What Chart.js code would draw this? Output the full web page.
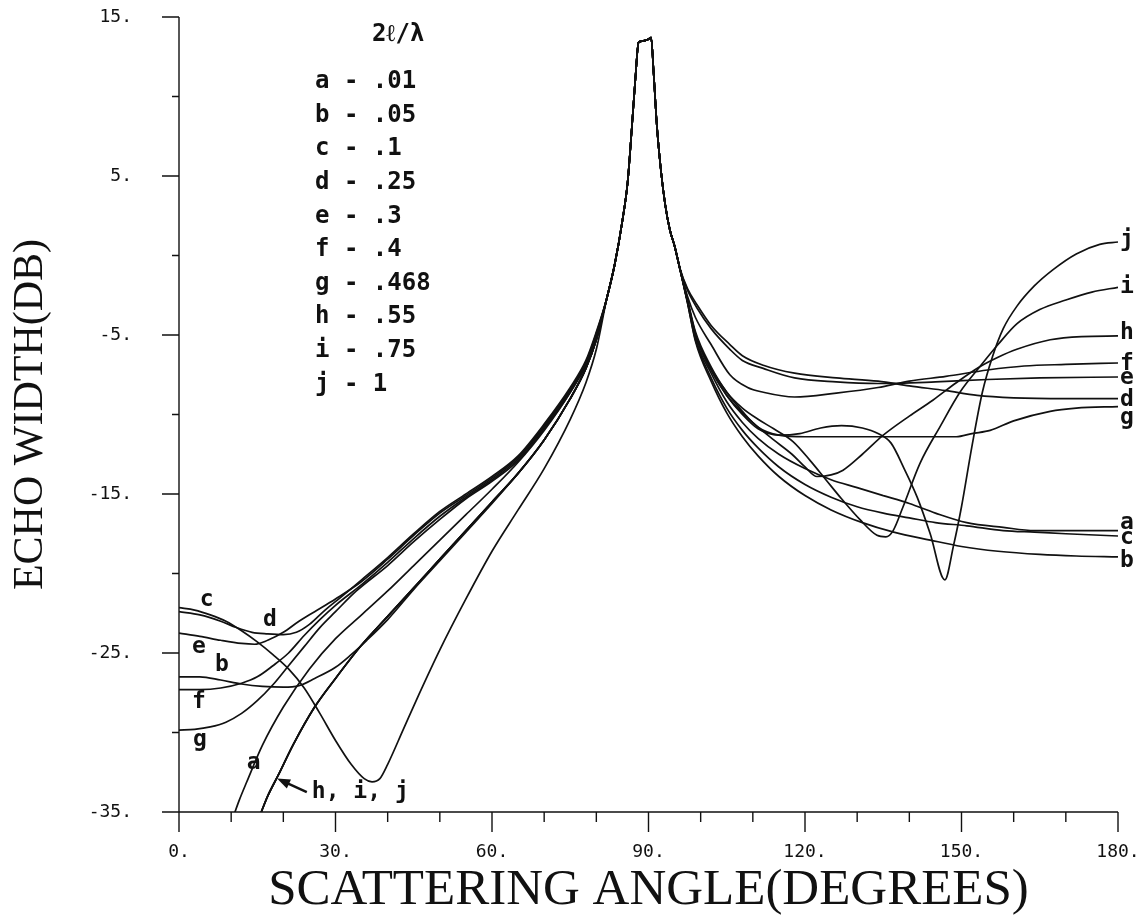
<!DOCTYPE html>
<html lang="en">
<head>
    <meta charset="UTF-8">
    <title>Echo width vs scattering angle</title>
    <script src="https://cdn.jsdelivr.net/npm/chart.js@4.4.1/dist/chart.umd.min.js"></script>
    <style>
        body {
            margin: 0;
            background: #fff;
        }
        #wrap {
            width: 1145px;
            height: 921px;
        }
    </style>
</head>
<body>
    <div id="wrap"><canvas id="echoChart"></canvas></div>

    <script>
        // common specular peak shared by every curve (deg, dB)
        const peakTop = [[82,-2.7],[83.5,-0.6],[85,2.2],[86,4.6],[86.8,8.0],[87.5,11.2],[88.1,13.4],[89,13.5],[90,13.6],[90.5,13.7],[91,11.4],[91.6,8.2],[92.4,5.3],[93.2,3.2],[94.1,1.6],[95,0.6],[96,-0.8]];

        // left branch shared by h, i and j
        const hijLeft = [[15.3,-35.4],[17,-34.0],[19,-32.7],[22,-30.7],[26,-28.4],[30,-26.6],[35,-24.5],[40,-22.7],[45,-20.9],[50,-19.1],[55,-17.3],[60,-15.5],[65,-13.7],[70,-11.6],[75,-9.0],[78,-7.1],[80,-5.3]];

        const curveA = [[10.3,-35.4],[11.5,-34.3],[13,-33.1],[16,-30.8],[20,-28.4],[25,-26.0],[30,-24.1],[35,-22.6],[40,-21.1],[45,-19.5],[50,-17.9],[55,-16.3],[60,-14.7],[65,-13.0],[70,-11.0],[75,-8.6],[78,-6.8],[80,-5.0],
            ...peakTop,
            [97.5,-2.9],[99,-5.2],[102,-7.4],[105,-9.2],[108,-10.5],[111,-11.5],[115,-12.5],[120,-13.4],[125,-14.1],[130,-14.6],[135,-15.1],[140,-15.6],[145,-16.2],[151,-16.8],[158,-17.1],[164,-17.3],[170,-17.3],[180,-17.3]];

        const curveB = [[0,-26.5],[4,-26.5],[8,-26.7],[12,-26.95],[16,-27.1],[20,-27.15],[23,-27.05],[26,-26.6],[30,-25.9],[33,-25.1],[36,-24.2],[40,-22.9],[45,-21.0],[50,-19.2],[55,-17.4],[60,-15.6],[65,-13.7],[70,-11.6],[75,-9.0],[78,-7.1],[80,-5.3],
            ...peakTop,
            [97.5,-3.0],[99,-5.4],[102,-7.9],[105,-9.9],[108,-11.4],[111,-12.6],[115,-13.9],[120,-15.1],[125,-16.0],[131,-16.8],[137,-17.4],[144,-17.9],[150,-18.3],[157,-18.6],[165,-18.8],[172,-18.9],[180,-18.96]];

        const curveC = [[0,-22.15],[3,-22.3],[6,-22.6],[9,-23.0],[12,-23.6],[15,-24.3],[18,-25.1],[21,-26.0],[24,-27.2],[27,-28.8],[30,-30.5],[33,-32.0],[35.5,-32.9],[37,-33.1],[38.5,-32.9],[40,-32.0],[43,-29.8],[46,-27.6],[50,-24.8],[55,-21.6],[60,-18.6],[65,-16.0],[70,-13.4],[75,-10.3],[78,-8.0],[80,-5.9],
            ...peakTop,
            [97.5,-3.0],[99,-5.3],[102,-7.7],[105,-9.6],[108,-11.0],[111,-12.1],[115,-13.3],[120,-14.4],[125,-15.2],[130,-15.8],[135,-16.2],[140,-16.5],[145,-16.8],[151,-17.0],[158,-17.3],[164,-17.4],[170,-17.5],[180,-17.64]];

        const curveD = [[0,-22.4],[4,-22.6],[8,-23.0],[11,-23.4],[14,-23.7],[17,-23.8],[20,-23.85],[22.5,-23.7],[25,-23.2],[28,-22.3],[31,-21.5],[35,-20.4],[40,-19.0],[45,-17.5],[50,-16.1],[55,-15.0],[60,-13.9],[65,-12.6],[70,-10.6],[75,-8.3],[78,-6.6],[80,-4.8],
            ...peakTop,
            [97.5,-2.1],[99.3,-3.1],[102,-4.4],[105.6,-5.6],[108,-6.3],[112,-6.9],[118,-7.4],[126,-7.7],[134,-7.9],[140,-8.2],[147,-8.5],[153,-8.8],[160,-8.95],[170,-9.0],[180,-9.0]];

        const curveE = [[0,-23.75],[4,-23.95],[8,-24.2],[12,-24.4],[14.5,-24.45],[17,-24.2],[20,-23.7],[23,-23.0],[26,-22.4],[30,-21.6],[35,-20.5],[40,-19.1],[45,-17.6],[50,-16.2],[55,-15.1],[60,-14.0],[65,-12.7],[70,-10.7],[75,-8.4],[78,-6.7],[80,-4.9],
            ...peakTop,
            [97.5,-2.2],[99.3,-3.3],[102,-4.6],[105.6,-5.9],[108,-6.6],[112,-7.1],[118,-7.7],[126,-7.95],[134,-8.05],[145,-7.95],[155,-7.8],[165,-7.7],[180,-7.64]];

        const curveF = [[0,-27.3],[4,-27.3],[8,-27.2],[12,-26.9],[15,-26.5],[18,-25.8],[21,-25.0],[24,-23.9],[27,-22.9],[30,-22.0],[35,-20.7],[40,-19.3],[45,-17.8],[50,-16.4],[55,-15.2],[60,-14.1],[65,-12.8],[70,-10.8],[75,-8.5],[78,-6.8],[80,-5.0],
            ...peakTop,
            [97.5,-2.6],[99,-3.9],[102,-5.6],[105.6,-7.5],[109,-8.3],[112,-8.6],[118,-8.9],[126,-8.65],[134,-8.3],[140,-7.9],[147,-7.6],[155,-7.2],[162,-6.95],[170,-6.85],[180,-6.76]];

        const curveG = [[0,-29.85],[3,-29.8],[6,-29.65],[9,-29.35],[12,-28.8],[15,-28.0],[18,-27.0],[21,-25.8],[24,-24.6],[27,-23.4],[30,-22.4],[34,-21.1],[40,-19.5],[45,-18.0],[50,-16.6],[55,-15.3],[60,-14.2],[65,-12.9],[70,-10.9],[75,-8.6],[78,-6.9],[80,-5.1],
            ...peakTop,
            [97.5,-2.8],[99,-4.8],[102,-7.0],[105,-8.6],[108,-9.8],[111,-10.8],[115,-11.3],[120,-11.4],[130,-11.4],[140,-11.4],[149,-11.4],[152,-11.2],[155.5,-11.0],[160,-10.4],[167,-9.8],[172,-9.6],[180,-9.5]];

        const curveH = [...hijLeft, ...peakTop,
            [97.5,-2.9],[99,-5.0],[102,-7.2],[105,-8.8],[108,-9.9],[111,-10.8],[114,-11.6],[117.5,-12.5],[120,-13.3],[122.3,-13.9],[125,-13.8],[127.3,-13.5],[131,-12.5],[135,-11.3],[140,-10.1],[144.5,-9.1],[149,-8.0],[153.5,-7.0],[157,-6.4],[160.6,-5.9],[167,-5.3],[173,-5.1],[180,-5.06]];

        const curveI = [...hijLeft, ...peakTop,
            [97.5,-2.9],[99,-5.0],[102,-7.1],[105,-8.6],[108,-9.6],[111,-10.3],[114,-10.9],[117.7,-11.7],[121,-12.9],[124,-14.1],[127,-15.3],[130.5,-16.6],[133.8,-17.6],[135.5,-17.7],[136.9,-17.3],[138.8,-15.8],[142,-13.1],[146,-10.7],[149.7,-8.6],[153.5,-7.0],[157,-5.6],[160.6,-4.3],[165,-3.4],[170,-2.8],[175,-2.3],[180,-2.0]];

        const curveJ = [...hijLeft, ...peakTop,
            [97.5,-2.9],[99,-4.9],[102,-7.2],[105,-8.8],[108,-10.0],[111,-10.9],[115,-11.3],[119,-11.2],[123,-10.85],[127,-10.7],[131,-10.85],[134,-11.2],[136.5,-11.8],[139,-13.4],[141.5,-15.2],[144,-17.5],[146.8,-20.4],[148.5,-18.2],[150,-15.8],[152,-12.0],[154,-8.6],[156,-6.3],[158,-4.6],[160.6,-3.2],[164,-1.9],[167.5,-0.9],[172,0.1],[176.5,0.7],[180,0.85]];

        const curveNames = ['a', 'b', 'c', 'd', 'e', 'f', 'g', 'h', 'i', 'j'];
        const curves = [curveA, curveB, curveC, curveD, curveE, curveF, curveG, curveH, curveI, curveJ];

        const legendTitle = '2\u2113/\u03bb';
        const legendRows = ['a - .01', 'b - .05', 'c - .1', 'd - .25', 'e - .3', 'f - .4', 'g - .468', 'h - .55', 'i - .75', 'j - 1'];

        // curve tags, anchored in data units (deg, dB)
        const tagsRight = [['j', 0.95], ['i', -2.0], ['h', -4.9], ['f', -6.8], ['e', -7.7], ['d', -9.1], ['g', -10.2], ['a', -16.8], ['c', -17.8], ['b', -19.2]];
        const tagsLeft = [['c', 4.0, -21.7], ['d', 16.1, -22.9], ['e', 2.5, -24.6], ['b', 6.9, -25.75], ['f', 2.5, -28.1], ['g', 2.7, -30.5], ['a', 13.0, -31.9]];

        const INK = '#111';
        const TAG_FONT = 'bold 23px "DejaVu Sans Mono"';
        // invisible tick marks: they only push the labels away from the axis
        const hiddenGrid = len => ({ display: true, drawOnChartArea: false, drawTicks: true, tickLength: len, color: 'rgba(0,0,0,0)', tickColor: 'rgba(0,0,0,0)' });

        // axis lines, tick marks, legend block and curve tags
        const plotDecor = {
            id: 'plotDecor',
            afterDraw(chart) {
                const { ctx, scales: { x, y } } = chart;
                const px = v => x.getPixelForValue(v);
                const py = v => y.getPixelForValue(v);
                ctx.save();
                ctx.strokeStyle = INK;
                ctx.lineWidth = 1.4;
                ctx.beginPath();
                ctx.moveTo(x.left, y.top);
                ctx.lineTo(x.left, y.bottom);
                ctx.lineTo(x.right, y.bottom);
                for (let v = 0; v <= 180; v += 10) {
                    const len = v % 30 === 0 ? 20 : 10;
                    ctx.moveTo(px(v), y.bottom);
                    ctx.lineTo(px(v), y.bottom + len);
                }
                for (let v = -35; v <= 15; v += 5) {
                    const len = (v + 35) % 10 === 0 ? 17 : 7;
                    ctx.moveTo(x.left - len, py(v));
                    ctx.lineTo(x.left, py(v));
                }
                ctx.stroke();

                ctx.fillStyle = INK;
                ctx.textBaseline = 'middle';

                // legend block
                ctx.font = 'bold 24px "DejaVu Sans Mono"';
                ctx.textAlign = 'left';
                ctx.fillText(legendTitle, x.left + 193, y.top + 18);
                legendRows.forEach((row, i) => {
                    ctx.fillText(row, x.left + 136, y.top + 65 + i * 33.6);
                });

                // tags at the right ends
                ctx.font = TAG_FONT;
                tagsRight.forEach(([t, v]) => ctx.fillText(t, x.right + 2, py(v)));
                // tags near the left ends
                tagsLeft.forEach(([t, a, v]) => ctx.fillText(t, px(a), py(v)));

                // h, i, j pointer
                const tipX = px(18.8), tipY = py(-32.9);
                const tailX = px(24.5), tailY = py(-33.75);
                const ang = Math.atan2(tipY - tailY, tipX - tailX);
                ctx.lineWidth = 2.5;
                ctx.beginPath();
                ctx.moveTo(tailX, tailY);
                ctx.lineTo(tipX - 8 * Math.cos(ang), tipY - 8 * Math.sin(ang));
                ctx.stroke();
                ctx.beginPath();
                ctx.moveTo(tipX, tipY);
                ctx.lineTo(tipX - 13 * Math.cos(ang) + 5 * Math.sin(ang), tipY - 13 * Math.sin(ang) - 5 * Math.cos(ang));
                ctx.lineTo(tipX - 13 * Math.cos(ang) - 5 * Math.sin(ang), tipY - 13 * Math.sin(ang) + 5 * Math.cos(ang));
                ctx.closePath();
                ctx.fill();
                ctx.fillText('h, i, j', tailX + 5, tailY);
                ctx.restore();
            }
        };

        const datasets = curves.map((pts, i) => ({
            label: curveNames[i],
            data: pts.map(([a, v]) => ({ x: a, y: v })),
            borderColor: INK,
            borderWidth: 1.7,
            pointRadius: 0,
            fill: false,
            cubicInterpolationMode: 'monotone'
        }));

        new Chart(document.getElementById('echoChart'), {
            type: 'line',
            data: { datasets: datasets },
            options: {
                responsive: true,
                maintainAspectRatio: false,
                animation: false,
                layout: { autoPadding: false, padding: { top: 17, right: 27, left: 0, bottom: 0 } },
                plugins: { legend: { display: false }, tooltip: { enabled: false } },
                scales: {
                    x: {
                        type: 'linear',
                        min: 0,
                        max: 180,
                        grid: hiddenGrid(30),
                        border: { display: false },
                        ticks: {
                            stepSize: 30,
                            padding: 0,
                            color: INK,
                            font: { family: 'DejaVu Sans Mono', size: 18 },
                            maxRotation: 0,
                            callback: v => v + '.'
                        },
                        title: {
                            display: true,
                            text: 'SCATTERING ANGLE(DEGREES)',
                            color: INK,
                            font: { family: 'Liberation Serif', size: 51 },
                            padding: { top: 0, bottom: 0 }
                        },
                        afterFit: s => { s.height = 109; }
                    },
                    y: {
                        type: 'linear',
                        min: -35,
                        max: 15,
                        grid: hiddenGrid(47),
                        border: { display: false },
                        ticks: {
                            stepSize: 10,
                            padding: 0,
                            color: INK,
                            font: { family: 'DejaVu Sans Mono', size: 18 },
                            callback: v => v + '.'
                        },
                        title: {
                            display: true,
                            text: 'ECHO WIDTH(DB)',
                            color: INK,
                            font: { family: 'Liberation Serif', size: 42 },
                            padding: { top: 6, bottom: 0 }
                        },
                        afterFit: s => { s.width = 179; }
                    }
                }
            },
            plugins: [plotDecor]
        });
    </script>
</body>
</html>
